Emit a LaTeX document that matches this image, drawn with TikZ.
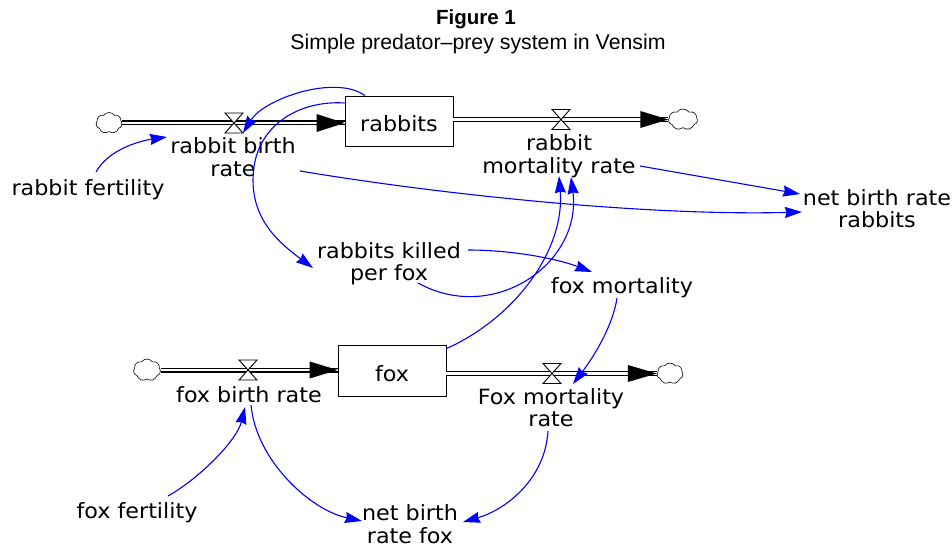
\documentclass[tikz,border=0pt]{standalone}
\usepackage{fontspec}
\setmainfont{DejaVu Sans}
\newfontfamily\varfont{DejaVu Sans}[FakeStretch=1.06]
\newfontfamily\titlefont{Liberation Sans}
\usetikzlibrary{arrows.meta,shapes.symbols}
\definecolor{linkblue}{RGB}{0,0,255}
\tikzset{
  var/.style={font={\fontsize{21}{22.5}\selectfont\varfont}, align=center, anchor=base, inner sep=0pt},
  stock/.style={draw, line width=0.8pt, minimum width=108pt, minimum height=50pt, inner sep=0pt,
    font={\fontsize{21}{22.5}\selectfont\varfont}, text height=22pt, text depth=0pt},
  cloudn/.style={cloud, draw, cloud puffs=7, cloud puff arc=110, cloud ignores aspect,
    minimum width=26pt, minimum height=21pt, inner sep=0pt, line width=0.6pt, fill=white},
  pipe/.style={draw=black, double=white, double distance=2.6pt, line width=1.2pt},
  valvep/.style={draw=black, fill=white, line width=0.9pt, line join=miter},
  link/.style={draw=linkblue, line width=1.1pt, -{Stealth[length=17pt,width=11pt,inset=1.5pt]}},
  titlea/.style={font={\fontsize{20.5}{24}\selectfont\titlefont\bfseries}, anchor=base, inner sep=0pt},
  titleb/.style={font={\fontsize{21.3}{24}\selectfont\titlefont}, anchor=base, inner sep=0pt},
}
\begin{document}
\begin{tikzpicture}[x=1pt,y=-1pt]
\useasboundingbox[fill=white] (0,0) rectangle (952,548);
% title
\node[titlea] (t1) at (476,25) {Figure 1};
\node[titleb] (t2) at (478,49.5) {Simple predator–prey system in Vensim};
% stocks
\node[stock] (rabbits) at (399,121) {rabbits};
\node[stock, minimum height=51pt] (fox) at (392,370.5) {fox};
% clouds
\node[cloudn] (c1) at (109,123) {};
\node[cloudn, minimum width=29pt] (c2) at (683,119.5) {};
\node[cloudn, minimum width=27pt, minimum height=22pt] (c3) at (147,370) {};
\node[cloudn] (c4) at (670,373.5) {};
% valve centres
\coordinate (vrb) at (234,123);
\coordinate (vrm) at (561,119.5);
\coordinate (vfb) at (248,370);
\coordinate (vfm) at (552,373.5);
% pipes
\draw[pipe] (c1.east) -- (c1.east -| rabbits.west);
\fill (c1.east -| rabbits.west) -- ++(-28,-9) -- ++(0,18) -- cycle;
\draw[pipe] (rabbits.east |- c2.west) -- (c2.west);
\fill (c2.west) -- ++(-28,-8.5) -- ++(0,17) -- cycle;
\draw[pipe] (c3.east) -- (c3.east -| fox.west);
\fill (c3.east -| fox.west) -- ++(-28,-8.5) -- ++(0,17) -- cycle;
\draw[pipe] (fox.east |- c4.west) -- (c4.west);
\fill (c4.west) -- ++(-29,-8.5) -- ++(0,17) -- cycle;
% valves
\foreach \v in {vrb,vrm,vfb,vfm}{
  \draw[valvep] ([shift={(-9,-10)}]\v) -- ++(18,0) -- ++(-18,20) -- ++(18,0) -- cycle;
}
% variables (multi-line nodes: base = last line)
\node[var] (rfert) at (88,195) {rabbit fertility};
\node[var] (rbr) at (233,176.5) {rabbit birth\\rate};
\node[var] (rmr) at (559,173.5) {rabbit\\mortality rate};
\node[var] (nbrr) at (877,227.5) {net birth rate\\rabbits};
\node[var] (rkpf) at (389,280.5) {rabbits killed\\per fox};
\node[var] (fmort) at (622,293) {fox mortality};
\node[var] (fbr) at (249,402) {fox birth rate};
\node[var] (Fmr) at (551,426.5) {Fox mortality\\rate};
\node[var] (ffert) at (137,518) {fox fertility};
\node[var] (nbrf) at (410,543) {net birth\\rate fox};
% links
\draw[link] ([shift={(8,-23)}]rfert.base) .. controls (108,150) and (139,141) .. ([shift={(-66,-39.5)}]rbr.base);
\draw[link] ([shift={(-34,0)}]rabbits.north) .. controls (335,74) and (264,99) .. ([shift={(9,10)}]vrb);
\draw[link] ([shift={(0,-18)}]rabbits.west) .. controls (300,100) and (253,125) .. (253,180)
   .. controls (253,220) and (278,242) .. ([shift={(-76,-12.5)}]rkpf.base);
\draw[link] ([shift={(67,-5.5)}]rbr.base) .. controls (450,196) and (652,216) .. ([shift={(-75,-15.5)}]nbrr.base);
\draw[link] ([shift={(81,-7.5)}]rmr.base) -- ([shift={(-77,-33.5)}]nbrr.base);
\draw[link] ([shift={(0,4)}]fox.north east) .. controls (515,318) and (565,250) .. ([shift={(0,2.5)}]rmr.base);
\draw[link] ([shift={(29,2.5)}]rkpf.base) .. controls (494,325) and (582,263) .. ([shift={(12,3.5)}]rmr.base);
\draw[link] ([shift={(79,-30.5)}]rkpf.base) .. controls (510,250) and (555,258) .. ([shift={(-30,-21)}]fmort.base);
\draw[link] ([shift={(-5,5)}]fmort.base) .. controls (613,325) and (595,355) .. ([shift={(22,-42.5)}]Fmr.base);
\draw[link] ([shift={(31,-22)}]ffert.base) .. controls (200,478) and (237,440) .. ([shift={(-4,5)}]fbr.base);
\draw[link] ([shift={(2,3)}]fbr.base) .. controls (256,460) and (310,510) .. ([shift={(-48,-22)}]nbrf.base);
\draw[link] ([shift={(-3,4.5)}]Fmr.base) .. controls (545,480) and (505,510) .. ([shift={(53,-21)}]nbrf.base);
\end{tikzpicture}
\end{document}
